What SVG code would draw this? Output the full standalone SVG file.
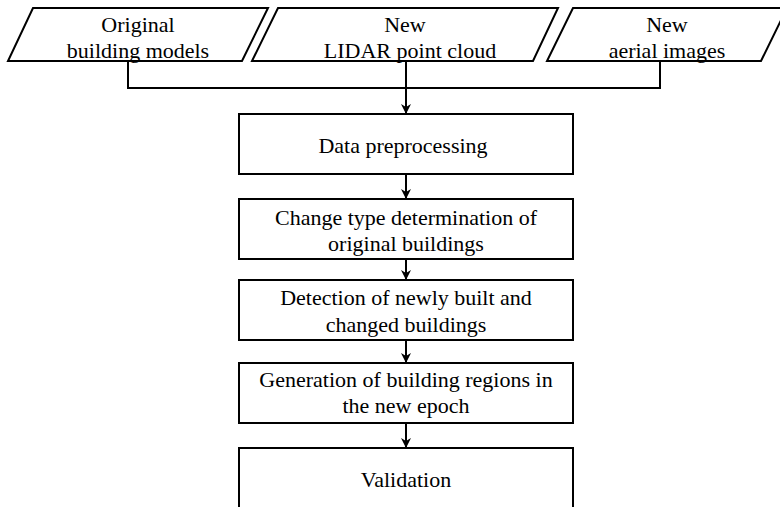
<svg xmlns="http://www.w3.org/2000/svg" width="780" height="507" viewBox="0 0 780 507">
<defs>
<marker id="arr" viewBox="0 0 10 10" refX="10" refY="5" markerWidth="10" markerHeight="10" markerUnits="userSpaceOnUse" orient="auto">
<path d="M0,0 L10,5 L0,10 L3,5 Z" fill="#000"/>
</marker>
<style>
.shape{fill:#fff;stroke:#000;stroke-width:2}
.t{font-family:"Liberation Serif","Times New Roman",serif;font-size:22px;fill:#000;text-anchor:middle}
.c{fill:none;stroke:#000;stroke-width:2}
</style>
</defs>
<rect width="780" height="507" fill="#fff"/>
<g id="connectors">
<polyline class="c" points="128,61 128,88 660,88 660,61"/>
<line class="c" x1="406" y1="61" x2="406" y2="114" marker-end="url(#arr)"/>
<line class="c" x1="406" y1="174" x2="406" y2="199" marker-end="url(#arr)"/>
<line class="c" x1="406" y1="259" x2="406" y2="280" marker-end="url(#arr)"/>
<line class="c" x1="406" y1="340" x2="406" y2="363" marker-end="url(#arr)"/>
<line class="c" x1="406" y1="423" x2="406" y2="448" marker-end="url(#arr)"/>
</g>
<g id="in1">
<polygon class="shape" points="33,8 268,8 242,61 8,61"/>
<text class="t" x="138" y="32">Original</text>
<text class="t" x="138" y="58">building models</text>
</g>
<g id="in2">
<polygon class="shape" points="278,8 558,8 533,61 252,61"/>
<text class="t" x="405" y="32">New</text>
<text class="t" x="410" y="58">LIDAR point cloud</text>
</g>
<g id="in3">
<polygon class="shape" points="573,8 787,8 761,61 547,61"/>
<text class="t" x="667" y="32">New</text>
<text class="t" x="667" y="58">aerial images</text>
</g>
<g id="n1">
<rect class="shape" x="239" y="114" width="334" height="60"/>
<text class="t" x="403" y="153">Data preprocessing</text>
</g>
<g id="n2">
<rect class="shape" x="239" y="199" width="334" height="60"/>
<text class="t" x="406" y="225">Change type determination of</text>
<text class="t" x="406" y="251">original buildings</text>
</g>
<g id="n3">
<rect class="shape" x="239" y="280" width="334" height="60"/>
<text class="t" x="406" y="305">Detection of newly built and</text>
<text class="t" x="406" y="332">changed buildings</text>
</g>
<g id="n4">
<rect class="shape" x="239" y="363" width="334" height="60"/>
<text class="t" x="406" y="387">Generation of building regions in</text>
<text class="t" x="406" y="413">the new epoch</text>
</g>
<g id="n5">
<rect class="shape" x="239" y="448" width="334" height="70"/>
<text class="t" x="406" y="487">Validation</text>
</g>
</svg>
